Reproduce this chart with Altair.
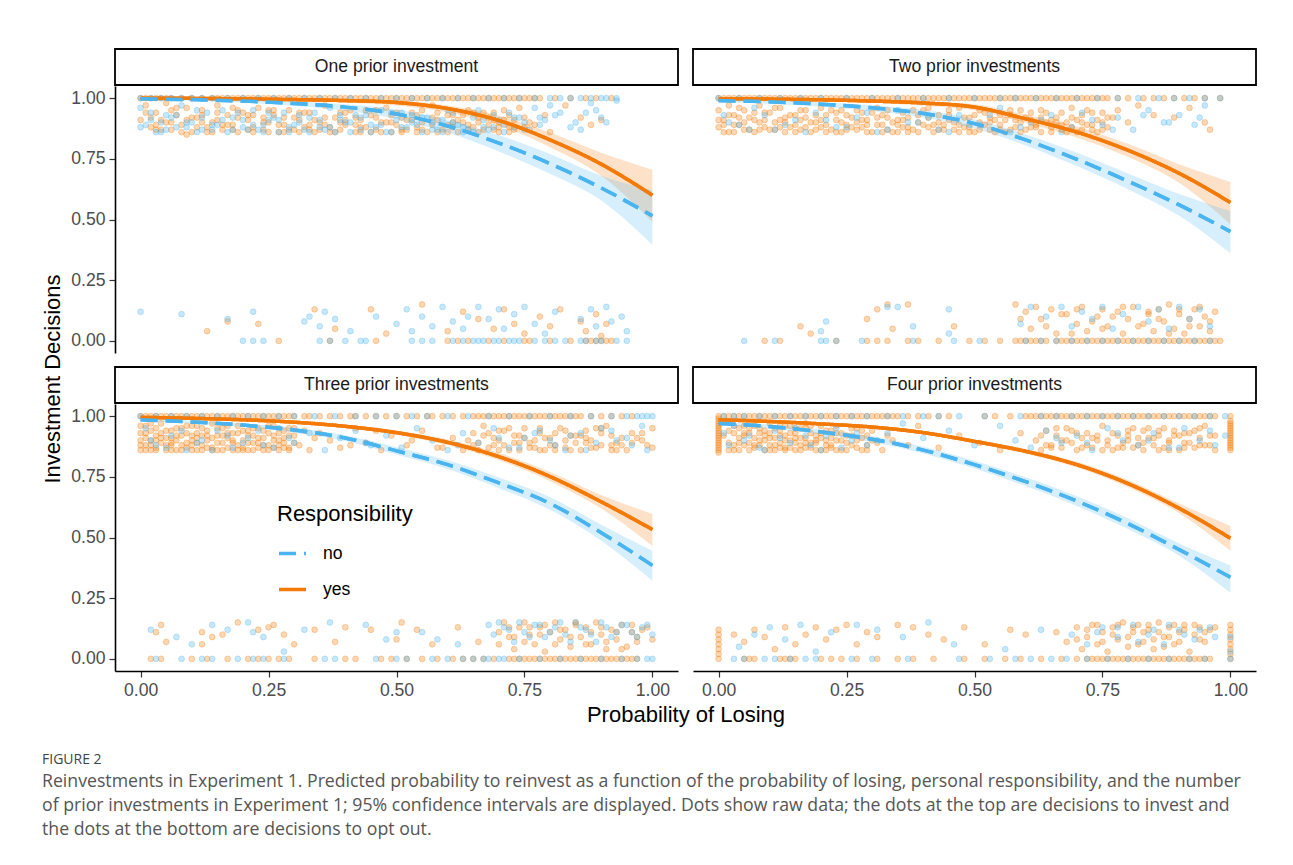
import altair as alt
import pandas as pd

FONT = "Liberation Sans"
BLUE = "#4AB4F0"
ORANGE = "#F47A08"
RESP = ["no", "yes"]
PANELS = ["One prior investment", "Two prior investments",
          "Three prior investments", "Four prior investments"]
X_TICKS = [0.0, 0.25, 0.5, 0.75, 1.0]
Y_TICKS = [0.0, 0.25, 0.5, 0.75, 1.0]
CURVE_X = [0.0, 0.1, 0.2, 0.3, 0.4, 0.5, 0.6, 0.7, 0.8, 0.9, 1.0]

# ---- fitted curves and 95% CI ----
P1_YES_FIT = [1.000, .999, .997, .994, .990, .982, .957, .908, .828, .728, .600]
P1_YES_LO = [.999, .997, .993, .988, .981, .970, .942, .888, .798, .680, .490]
P1_YES_HI = [1.000, 1.000, .999, .997, .995, .990, .970, .928, .858, .775, .705]
P1_NO_FIT = [.997, .994, .988, .978, .963, .935, .885, .815, .730, .630, .515]
P1_NO_LO = [.994, .989, .981, .968, .948, .914, .858, .780, .688, .578, .395]
P1_NO_HI = [.999, .997, .993, .986, .975, .953, .909, .847, .770, .680, .620]

P2_YES_FIT = [.998, .996, .993, .988, .980, .963, .915, .860, .785, .690, .570]
P2_YES_LO = [.996, .993, .988, .981, .970, .950, .898, .838, .757, .650, .480]
P2_YES_HI = [.999, .998, .996, .993, .987, .975, .932, .882, .812, .728, .655]
P2_NO_FIT = [.990, .985, .975, .960, .937, .895, .828, .748, .658, .560, .450]
P2_NO_LO = [.984, .977, .965, .947, .920, .875, .805, .720, .625, .515, .360]
P2_NO_HI = [.994, .990, .983, .971, .952, .913, .850, .775, .690, .605, .535]

P3_YES_FIT = [.995, .991, .985, .975, .958, .932, .892, .833, .751, .647, .533]
P3_YES_LO = [.993, .988, .981, .969, .951, .923, .880, .818, .732, .619, .465]
P3_YES_HI = [.997, .994, .989, .981, .965, .941, .904, .848, .770, .675, .597]
P3_NO_FIT = [.985, .976, .963, .943, .910, .857, .800, .725, .640, .520, .385]
P3_NO_LO = [.980, .970, .955, .932, .898, .842, .782, .703, .614, .487, .322]
P3_NO_HI = [.989, .981, .970, .953, .921, .872, .818, .747, .666, .553, .445]

P4_YES_FIT = [.985, .978, .968, .955, .932, .896, .855, .800, .722, .620, .497]
P4_YES_LO = [.981, .974, .963, .949, .925, .888, .845, .788, .707, .600, .445]
P4_YES_HI = [.988, .982, .973, .961, .939, .904, .865, .812, .737, .640, .547]
P4_NO_FIT = [.970, .957, .935, .905, .860, .800, .730, .650, .557, .450, .336]
P4_NO_LO = [.963, .948, .925, .893, .846, .784, .712, .630, .535, .425, .272]
P4_NO_HI = [.976, .965, .945, .917, .874, .816, .748, .670, .579, .475, .385]

# ---- raw decisions (x, y in hundredths) ----
# Panel 1
P1_YES_TOP_LINE = [0, 1, 2, 3, 4, 5, 6, 8, 10, 12, 14, 15, 16, 17, 18, 19, 20, 21, 22, 23, 24, 25, 26, 27, 28, 29, 30,
                   31, 32, 33, 34, 35, 36, 37, 38, 39, 40, 41, 42, 43, 44, 45, 46, 47, 48, 49, 50, 51, 52, 53, 54, 55,
                   56, 57, 58, 59, 60, 61, 62, 63, 64, 65, 66, 67, 68, 69, 70, 71, 72, 73, 74, 75, 76, 77, 78, 81, 84,
                   87, 89, 92]
P1_YES_TOP_JIT = [(1, 97), (2, 88), (3, 94), (4, 91), (5, 98), (6, 87), (7, 93), (8, 89), (9, 96), (10, 86), (11, 92),
                  (12, 95), (13, 88), (14, 90), (15, 97), (16, 87), (17, 93), (18, 89), (19, 86), (20, 94), (21, 91),
                  (22, 88), (23, 96), (24, 87), (25, 90), (26, 93), (27, 86), (28, 89), (29, 95), (30, 87), (31, 91),
                  (32, 88), (33, 94), (34, 86), (35, 90), (36, 97), (37, 88), (38, 92), (39, 87), (40, 89), (41, 95),
                  (42, 86), (43, 91), (44, 88), (45, 93), (46, 87), (47, 90), (48, 96), (49, 86), (50, 89), (51, 92),
                  (52, 87), (53, 94), (54, 88), (55, 90), (56, 86), (57, 97), (58, 91), (59, 87), (60, 89), (61, 93),
                  (62, 86), (63, 90), (64, 95), (65, 88), (66, 92), (67, 87), (68, 89), (69, 94), (70, 86), (71, 91),
                  (72, 88), (74, 96), (76, 90), (79, 93), (83, 97), (88, 89), (90, 91)]
P1_YES_TOP_JIT2 = [(2, 92), (3, 87), (5, 90), (6, 95), (8, 86), (9, 91), (11, 88), (12, 93), (14, 86), (15, 91),
                   (17, 89), (18, 96), (19, 92), (21, 87), (22, 93), (24, 90), (25, 86), (26, 95), (28, 92), (29, 87),
                   (31, 86), (32, 94), (33, 89), (35, 87), (36, 92), (38, 86), (39, 94), (40, 91), (42, 89), (43, 86),
                   (44, 95), (46, 92), (47, 86), (49, 90), (50, 94), (51, 87), (53, 91), (54, 86), (55, 95), (57, 89),
                   (58, 86), (60, 93), (61, 88), (62, 91), (64, 87), (65, 94), (66, 86), (68, 92), (69, 87), (70, 90),
                   (71, 95), (72, 86), (73, 91), (75, 88)]
P1_YES_TOP_JIT3 = [(0, 91), (1, 94), (3, 89), (4, 87), (6, 90), (7, 96), (9, 85), (10, 92), (12, 90), (13, 86),
                   (15, 94), (16, 89), (18, 87), (19, 95), (21, 93), (22, 86), (24, 92), (25, 95), (27, 89), (28, 86),
                   (30, 92), (31, 94), (33, 87), (34, 91), (36, 89), (37, 86), (39, 90), (40, 94), (42, 92), (43, 88),
                   (45, 86), (46, 95), (48, 90), (49, 93), (51, 86), (52, 91), (54, 93), (55, 87), (57, 92), (58, 94),
                   (60, 86), (61, 90), (63, 93), (64, 89), (66, 90), (67, 94), (69, 91), (70, 88), (72, 93), (73, 87),
                   (75, 92), (77, 89), (80, 86), (86, 92)]
P1_NO_TOP_LINE = [0, 2, 4, 6, 8, 10, 12, 14, 17, 20, 23, 26, 29, 32, 35, 38, 41, 44, 47, 50, 53, 56, 59, 62, 65, 68,
                  71, 74, 77, 80, 82, 84, 86, 88, 90, 91, 93]
P1_NO_TOP_JIT = [(0, 96), (2, 91), (3, 86), (5, 93), (7, 88), (8, 97), (10, 90), (12, 87), (13, 94), (15, 89), (17, 86),
                 (18, 92), (20, 88), (22, 95), (23, 87), (25, 91), (27, 86), (28, 94), (30, 89), (32, 87), (33, 92),
                 (35, 88), (37, 96), (38, 86), (40, 90), (42, 93), (43, 87), (45, 89), (47, 95), (48, 86), (50, 91),
                 (52, 88), (53, 93), (55, 86), (57, 90), (58, 87), (60, 95), (62, 89), (63, 86), (65, 92), (67, 88),
                 (68, 87), (70, 91), (72, 94), (73, 88), (75, 90), (77, 96), (78, 92), (80, 97), (82, 94), (85, 90),
                 (88, 98), (90, 92), (93, 99)]
P1_NO_TOP_JIT2 = [(1, 89), (4, 86), (6, 92), (9, 88), (11, 95), (14, 87), (16, 91), (19, 94), (21, 87), (24, 89),
                  (26, 92), (29, 86), (31, 90), (34, 94), (36, 87), (39, 91), (41, 86), (44, 93), (46, 88), (49, 86),
                  (51, 94), (54, 89), (56, 92), (59, 86), (61, 90), (64, 87), (66, 95), (69, 88), (71, 86), (74, 92),
                  (76, 87), (79, 91), (84, 88), (87, 94), (91, 90)]
P1_NO_TOP_JIT3 = [(0, 88), (2, 94), (4, 90), (5, 87), (7, 93), (9, 90), (11, 86), (12, 92), (14, 89), (16, 95),
                  (18, 87), (20, 91), (22, 89), (24, 86), (25, 94), (27, 91), (29, 88), (31, 93), (33, 86), (35, 91),
                  (37, 88), (39, 93), (41, 90), (43, 92), (45, 86), (47, 89), (49, 94), (51, 88), (53, 90), (55, 92),
                  (57, 87), (59, 91), (61, 94), (63, 88), (65, 86), (67, 91), (69, 93), (71, 89), (73, 92), (75, 87),
                  (78, 89), (81, 93), (86, 87), (89, 95)]
P1_YES_BOT_LINE = [27, 37, 46, 60, 62, 64, 68, 71, 75, 76, 80, 84, 87, 88, 89, 90, 91, 92]
P1_NO_BOT_LINE = [20, 22, 24, 35, 37, 40, 43, 44, 53, 55, 57, 61, 63, 65, 66, 67, 69, 70, 72, 73, 74, 77, 79, 81, 83,
                  86, 87, 89, 90, 93, 95]
P1_YES_BOT_JIT = [(13, 4), (17, 8), (23, 7), (34, 13), (38, 5), (45, 13), (48, 3), (55, 15), (60, 4), (63, 12),
                  (66, 9), (69, 5), (71, 13), (73, 7), (75, 3), (78, 10), (80, 6), (82, 13), (86, 8), (87, 4),
                  (89, 11), (90, 2), (91, 7)]
P1_NO_BOT_JIT = [(0, 12), (8, 11), (17, 9), (22, 12), (32, 8), (33, 10), (35, 6), (36, 12), (38, 9), (41, 4), (46, 10),
                 (50, 7), (52, 13), (53, 4), (55, 10), (57, 6), (59, 14), (61, 8), (63, 5), (64, 10), (66, 14), (68, 9),
                 (70, 13), (71, 5), (73, 11), (75, 14), (77, 7), (79, 3), (81, 12), (86, 9), (88, 13), (89, 6),
                 (91, 14), (92, 8), (94, 10), (95, 4)]

# Panel 2
P2_YES_TOP_LINE = [0, 1, 2, 3, 4, 5, 6, 7, 8, 9, 10, 11, 12, 13, 14, 15, 16, 17, 18, 19, 20, 21, 22, 23, 24, 25, 26,
                   27, 28, 29, 30, 31, 32, 33, 34, 35, 36, 37, 38, 39, 40, 41, 42, 43, 44, 45, 46, 47, 48, 49, 50, 51,
                   52, 53, 54, 55, 56, 57, 58, 59, 60, 61, 62, 63, 64, 65, 66, 67, 68, 69, 70, 71, 72, 73, 74, 75, 76,
                   78, 80, 83, 85, 87, 89, 91, 93, 95, 98]
P2_YES_TOP_JIT = [(0, 95), (0, 88), (1, 91), (2, 86), (2, 97), (3, 93), (4, 89), (5, 87), (5, 95), (6, 92), (7, 86),
                  (8, 90), (8, 97), (9, 88), (10, 94), (11, 87), (12, 91), (12, 96), (13, 86), (14, 93), (15, 89),
                  (16, 87), (16, 95), (17, 92), (18, 86), (19, 90), (20, 88), (20, 96), (21, 93), (22, 87), (23, 91),
                  (24, 86), (24, 95), (25, 89), (26, 92), (27, 87), (28, 94), (28, 88), (29, 91), (30, 86), (31, 96),
                  (32, 89), (32, 93), (33, 87), (34, 90), (35, 86), (36, 94), (36, 88), (37, 92), (38, 87), (39, 90),
                  (40, 95), (41, 88), (42, 86), (43, 93), (44, 89), (45, 91), (46, 87), (47, 96), (48, 88), (49, 92),
                  (50, 86), (51, 90), (52, 94), (53, 87), (54, 91), (55, 89), (56, 86), (57, 93), (58, 88), (59, 95),
                  (60, 87), (61, 91), (62, 89), (63, 86), (64, 94), (65, 88), (66, 92), (67, 87), (68, 90), (69, 96),
                  (70, 86), (71, 93), (72, 89), (73, 87), (74, 91), (75, 94), (76, 88), (78, 95), (80, 90), (82, 97),
                  (85, 93), (89, 92), (92, 96), (95, 90), (96, 87)]
P2_YES_TOP_JIT2 = [(1, 86), (2, 93), (3, 89), (4, 96), (6, 87), (7, 91), (9, 94), (10, 87), (11, 90), (13, 92),
                   (14, 88), (15, 86), (17, 95), (18, 90), (19, 87), (21, 89), (22, 95), (23, 86), (25, 93), (26, 88),
                   (27, 90), (29, 86), (30, 94), (31, 89), (33, 92), (34, 86), (35, 91), (37, 88), (38, 95), (39, 86),
                   (41, 92), (42, 89), (43, 87), (45, 95), (46, 90), (47, 86), (49, 88), (50, 93), (51, 87), (53, 90),
                   (54, 86), (55, 93), (57, 87), (58, 91), (59, 86), (61, 94), (62, 88), (63, 92), (65, 86), (66, 90),
                   (67, 94), (69, 88), (70, 91), (71, 87), (73, 94), (74, 86), (75, 90), (77, 92)]
P2_YES_TOP_JIT3 = [(0, 91), (1, 89), (3, 86), (4, 92), (5, 90), (7, 94), (8, 87), (9, 91), (11, 96), (12, 88),
                   (13, 90), (15, 93), (16, 91), (17, 88), (19, 93), (20, 91), (21, 86), (23, 94), (24, 90), (25, 87),
                   (27, 95), (28, 91), (29, 89), (31, 92), (32, 86), (33, 95), (35, 89), (36, 91), (37, 86), (39, 93),
                   (40, 89), (41, 96), (43, 90), (44, 87), (45, 93), (47, 89), (48, 92), (49, 86), (51, 95), (52, 89),
                   (53, 92), (55, 87), (56, 91), (57, 95), (59, 90), (60, 92), (61, 88), (63, 95), (64, 90), (65, 91),
                   (67, 89), (68, 86), (69, 92), (71, 90), (72, 95), (73, 89), (75, 87), (76, 92)]
P2_NO_TOP_LINE = [0, 4, 8, 12, 16, 20, 25, 30, 35, 40, 45, 50, 55, 58, 62, 66, 70, 74, 78, 82, 86, 89, 92, 95, 98]
P2_NO_TOP_JIT = [(1, 93), (4, 89), (7, 96), (11, 87), (15, 91), (19, 94), (23, 88), (27, 92), (31, 86), (35, 95),
                 (39, 90), (43, 87), (47, 93), (51, 89), (55, 96), (59, 88), (63, 91), (67, 86), (71, 94), (75, 89),
                 (78, 92), (81, 87), (84, 95), (87, 90), (90, 93), (93, 89), (95, 97)]
P2_NO_TOP_JIT2 = [(2, 90), (6, 87), (9, 93), (13, 89), (17, 86), (21, 91), (25, 88), (29, 94), (33, 87), (37, 90),
                  (41, 92), (45, 86), (49, 89), (53, 93), (57, 86), (61, 90), (65, 93), (69, 88), (73, 91), (77, 87),
                  (83, 93), (88, 90), (94, 92)]
P2_YES_BOT_LINE = [9, 12, 23, 29, 31, 33, 37, 39, 43, 49, 52, 55, 58, 59, 60, 61, 62, 63, 64, 66, 67, 68, 69, 70, 71,
                   72, 73, 74, 75, 76, 77, 78, 79, 80, 81, 82, 83, 84, 85, 86, 87, 88, 89, 90, 91, 92, 93, 94, 95, 96,
                   97, 98]
P2_NO_BOT_LINE = [5, 11, 20, 21, 23, 28, 38, 46, 51, 60, 63, 66, 69, 72, 75, 78, 81, 84, 87, 90, 93, 96]
P2_YES_BOT_JIT = [(16, 6), (18, 3), (29, 9), (31, 13), (33, 15), (34, 5), (37, 15), (46, 6), (58, 15), (60, 12),
                  (61, 5), (63, 9), (65, 13), (66, 3), (68, 11), (70, 7), (71, 14), (72, 4), (74, 10), (75, 13),
                  (76, 6), (78, 12), (79, 3), (80, 9), (81, 14), (83, 7), (84, 11), (85, 4), (86, 13), (87, 8),
                  (88, 15), (89, 5), (90, 11), (91, 3), (92, 9), (93, 13), (94, 6), (95, 10), (96, 4), (97, 12),
                  (59, 9), (62, 14), (64, 6), (67, 11), (69, 3), (70, 13), (73, 8), (75, 5), (77, 10), (79, 14),
                  (82, 6), (84, 12), (86, 9), (88, 3), (90, 13), (92, 6), (94, 14), (96, 8)]
P2_NO_BOT_JIT = [(20, 4), (21, 8), (33, 14), (35, 14), (38, 6), (45, 13), (45, 3), (59, 7), (61, 14), (64, 10),
                 (67, 14), (69, 6), (71, 12), (73, 9), (75, 14), (77, 5), (79, 11), (82, 14), (84, 8), (86, 13),
                 (88, 5), (90, 14), (92, 9), (94, 13), (96, 6)]

# Panel 3
P3_YES_TOP_LINE = [0, 1, 2, 3, 4, 5, 6, 7, 8, 9, 10, 11, 12, 13, 14, 15, 16, 17, 18, 19, 20, 21, 22, 23, 24, 25, 26,
                   27, 28, 29, 30, 32, 33, 35, 37, 39, 41, 42, 44, 46, 48, 50, 52, 54, 56, 57, 59, 61, 63, 65, 66, 67,
                   68, 69, 70, 71, 72, 73, 74, 75, 76, 77, 78, 79, 80, 81, 82, 83, 84, 85, 86, 88, 90, 92, 94, 96]
P3_YES_TOP_JIT = [(0, 93), (0, 88), (1, 96), (1, 86), (2, 90), (2, 94), (3, 87), (3, 92), (4, 89), (4, 97), (5, 86),
                  (5, 91), (6, 94), (6, 88), (7, 90), (7, 86), (8, 95), (8, 92), (9, 87), (9, 89), (10, 96), (10, 86),
                  (11, 91), (11, 93), (12, 88), (12, 86), (13, 94), (13, 90), (14, 87), (14, 97), (15, 92), (15, 86),
                  (16, 89), (16, 95), (17, 87), (17, 91), (18, 93), (18, 86), (19, 88), (19, 96), (20, 90), (20, 87),
                  (21, 94), (21, 86), (22, 92), (22, 89), (23, 87), (23, 95), (24, 91), (24, 86), (25, 93), (25, 88),
                  (26, 87), (26, 96), (27, 90), (27, 86), (28, 94), (28, 89), (29, 87), (29, 92), (30, 95), (31, 88),
                  (33, 86), (35, 93), (37, 90), (39, 87), (42, 95), (44, 89), (47, 86), (49, 92), (52, 88), (55, 94),
                  (58, 87), (61, 91), (63, 86), (65, 93), (66, 89), (67, 96), (68, 87), (69, 91), (70, 94), (71, 88),
                  (72, 86), (73, 92), (74, 89), (75, 95), (76, 87), (77, 90), (78, 93), (79, 86), (80, 91), (81, 88),
                  (82, 95), (83, 87), (84, 92), (85, 89), (86, 86), (87, 94), (88, 90), (89, 87), (90, 93), (91, 96),
                  (92, 88), (93, 86), (94, 91), (96, 89), (98, 93), (100, 87), (100, 95)]
P3_YES_TOP_JIT2 = [(0, 90), (1, 88), (1, 93), (2, 86), (2, 97), (3, 90), (4, 93), (5, 88), (6, 86), (6, 91), (7, 95),
                   (8, 88), (9, 93), (10, 90), (11, 86), (11, 96), (12, 92), (13, 87), (14, 91), (15, 95), (16, 86),
                   (17, 93), (18, 89), (19, 86), (20, 94), (21, 89), (22, 86), (23, 91), (24, 94), (25, 86), (26, 90),
                   (27, 93), (28, 87), (29, 95), (30, 89), (34, 91), (41, 88), (46, 94), (53, 90), (59, 87), (64, 90),
                   (66, 86), (67, 92), (69, 88), (70, 86), (71, 94), (73, 89), (74, 86), (75, 91), (77, 87), (78, 95),
                   (80, 88), (81, 93), (83, 90), (84, 86), (86, 92), (87, 89), (89, 95), (90, 88), (92, 92), (93, 89),
                   (95, 86), (97, 91), (99, 88)]
P3_YES_TOP_JIT3 = [(0, 86), (0, 96), (1, 91), (2, 88), (3, 95), (3, 86), (4, 91), (5, 94), (6, 89), (7, 92), (8, 86),
                   (9, 96), (10, 92), (10, 88), (11, 89), (12, 95), (13, 92), (14, 86), (15, 89), (16, 92), (17, 96),
                   (18, 90), (19, 93), (20, 86), (21, 92), (22, 95), (23, 89), (24, 88), (25, 96), (26, 92), (27, 88),
                   (28, 91), (29, 86), (30, 92), (32, 94), (65, 88), (68, 93), (70, 90), (72, 95), (74, 92), (76, 89),
                   (78, 86), (79, 91), (81, 86), (83, 94), (85, 92), (87, 91), (88, 87), (90, 95), (92, 86), (94, 88),
                   (96, 93), (98, 90)]
P3_NO_TOP_LINE = [0, 3, 6, 9, 12, 15, 18, 21, 24, 27, 30, 34, 38, 42, 46, 50, 53, 56, 60, 64, 68, 72, 76, 80, 84, 88,
                  92, 95, 97, 98, 99, 100]
P3_NO_TOP_JIT = [(1, 95), (3, 88), (6, 92), (9, 86), (12, 90), (15, 94), (18, 87), (21, 91), (24, 88), (27, 95),
                 (30, 89), (33, 93), (36, 86), (39, 91), (42, 94), (45, 88), (48, 92), (51, 87), (54, 95), (57, 90),
                 (60, 86), (63, 93), (66, 89), (69, 95), (72, 87), (75, 91), (78, 94), (81, 88), (84, 92), (87, 86),
                 (90, 95), (93, 90), (96, 88), (98, 96)]
P3_NO_TOP_JIT2 = [(2, 90), (5, 87), (8, 94), (11, 89), (14, 86), (17, 92), (20, 89), (23, 94), (26, 87), (29, 91),
                  (44, 89), (62, 88), (70, 91), (74, 87), (77, 93), (80, 90), (83, 86), (86, 93), (89, 89), (92, 94),
                  (95, 91), (99, 86)]
P3_YES_BOT_LINE = [2, 4, 10, 13, 17, 21, 23, 25, 27, 29, 34, 40, 42, 47, 49, 52, 55, 58, 61, 63, 65, 67, 69, 72, 73,
                   74, 75, 76, 77, 78, 79, 80, 81, 82, 83, 84, 85, 86, 87, 88, 89, 90, 91, 92, 93, 94, 95, 96, 97]
P3_NO_BOT_LINE = [3, 8, 12, 14, 19, 22, 24, 28, 36, 38, 46, 50, 52, 57, 60, 63, 65, 67, 68, 70, 71, 74, 78, 82, 86,
                  90, 94, 97, 99, 100]
P3_YES_BOT_JIT = [(3, 11), (4, 14), (5, 7), (12, 11), (12, 6), (14, 9), (16, 10), (19, 15), (23, 12), (25, 13),
                  (26, 14), (28, 10), (30, 6), (34, 12), (38, 7), (40, 13), (45, 12), (50, 8), (51, 15), (54, 12),
                  (57, 6), (62, 13), (66, 7), (70, 11), (71, 15), (72, 9), (73, 4), (74, 13), (75, 15), (76, 10),
                  (77, 6), (78, 13), (79, 3), (80, 11), (81, 15), (82, 8), (83, 12), (84, 5), (85, 14), (86, 9),
                  (87, 13), (88, 6), (89, 15), (90, 10), (91, 4), (92, 12), (93, 8), (94, 14), (95, 5), (96, 11),
                  (97, 7), (99, 13), (100, 8), (70, 6), (72, 13), (73, 9), (75, 7), (76, 13), (78, 10), (79, 14),
                  (81, 6), (82, 12), (84, 9), (85, 15), (87, 6), (88, 11), (90, 13), (91, 7), (93, 11), (94, 4),
                  (96, 14), (97, 9), (98, 12)]
P3_NO_BOT_JIT = [(2, 12), (7, 9), (10, 6), (14, 14), (17, 12), (21, 15), (22, 11), (24, 9), (28, 3), (32, 12),
                 (37, 15), (44, 14), (48, 8), (50, 11), (55, 11), (58, 8), (62, 6), (68, 14), (70, 15), (72, 12),
                 (74, 15), (76, 9), (78, 14), (80, 11), (82, 15), (84, 7), (86, 13), (88, 10), (90, 15), (92, 9),
                 (94, 14), (96, 11), (98, 13), (100, 10), (69, 10), (71, 13), (73, 7), (75, 11), (77, 14), (79, 9),
                 (81, 13), (83, 10), (85, 15), (87, 12), (89, 7), (91, 13), (93, 11), (95, 14), (97, 9), (99, 14)]

# Panel 4
P4_YES_TOP_LINE = [0, 1, 2, 3, 4, 5, 6, 7, 8, 9, 10, 11, 12, 13, 14, 15, 16, 17, 18, 19, 20, 21, 22, 23, 24, 25, 26,
                   27, 28, 29, 30, 31, 32, 33, 34, 35, 37, 39, 41, 43, 45, 52, 54, 57, 60, 61, 62, 63, 64, 65, 66, 67,
                   68, 69, 70, 71, 72, 73, 74, 75, 76, 77, 78, 79, 80, 81, 82, 83, 84, 85, 86, 87, 88, 89, 90, 91, 92,
                   93, 94, 95, 96, 97, 100]
P4_YES_TOP_JIT = [(0, 86), (0, 87), (0, 88), (0, 89), (0, 90), (0, 91), (0, 92), (0, 93), (0, 94), (0, 95), (0, 96),
                  (0, 97), (0, 98), (2, 94), (3, 88), (4, 91), (4, 86), (5, 96), (6, 89), (6, 93), (7, 87), (8, 90),
                  (8, 95), (9, 86), (9, 92), (10, 88), (10, 97), (11, 91), (11, 86), (12, 94), (12, 89), (13, 87),
                  (13, 92), (14, 90), (14, 96), (15, 86), (15, 93), (16, 88), (16, 91), (17, 95), (17, 87), (18, 89),
                  (18, 93), (19, 86), (20, 91), (20, 96), (21, 88), (22, 94), (22, 87), (23, 90), (24, 86), (24, 93),
                  (25, 89), (26, 95), (27, 87), (28, 91), (29, 88), (30, 94), (32, 86), (34, 90), (37, 88), (39, 96),
                  (43, 87), (47, 92), (51, 89), (55, 86), (59, 93), (62, 90), (63, 86), (64, 94), (65, 88), (66, 92),
                  (67, 87), (68, 95), (69, 89), (70, 86), (71, 91), (72, 93), (73, 87), (74, 90), (75, 96), (76, 88),
                  (77, 86), (78, 92), (79, 89), (80, 94), (81, 87), (82, 91), (83, 86), (84, 95), (85, 88), (86, 92),
                  (87, 87), (88, 90), (89, 94), (90, 86), (91, 89), (92, 93), (93, 87), (94, 91), (95, 96), (96, 88),
                  (97, 86), (100, 86), (100, 88), (100, 90), (100, 92), (100, 94), (100, 96), (100, 98)]
P4_YES_TOP_JIT2 = [(2, 89), (3, 93), (3, 86), (4, 95), (5, 88), (5, 92), (6, 86), (7, 91), (7, 96), (8, 88), (9, 94),
                   (10, 86), (10, 91), (11, 95), (12, 87), (12, 92), (13, 90), (13, 96), (14, 87), (15, 89), (15, 95),
                   (16, 86), (17, 91), (17, 97), (18, 87), (19, 92), (19, 89), (20, 86), (21, 94), (21, 90), (22, 88),
                   (23, 93), (23, 86), (25, 92), (26, 88), (27, 95), (28, 86), (29, 92), (31, 89), (63, 92), (65, 87),
                   (67, 90), (69, 94), (71, 87), (73, 91), (75, 86), (77, 93), (79, 87), (80, 90), (82, 88), (83, 94),
                   (85, 91), (86, 86), (87, 95), (88, 89), (90, 92), (91, 87), (93, 94), (94, 88), (96, 92)]
P4_YES_TOP_JIT3 = [(0, 85), (0, 99), (1, 92), (2, 86), (3, 96), (4, 89), (5, 93), (6, 95), (7, 88), (8, 93), (9, 90),
                   (10, 93), (11, 88), (12, 96), (13, 86), (14, 93), (15, 91), (16, 95), (17, 89), (18, 96), (19, 90),
                   (20, 93), (21, 86), (22, 91), (23, 96), (24, 90), (25, 86), (26, 92), (27, 90), (28, 94), (29, 86),
                   (30, 90), (33, 92), (64, 88), (66, 95), (68, 90), (70, 93), (72, 88), (74, 92), (76, 90), (78, 87),
                   (80, 92), (81, 95), (83, 89), (84, 91), (86, 94), (88, 86), (89, 92), (91, 93), (92, 89), (94, 95),
                   (95, 88), (97, 92), (100, 87), (100, 89), (100, 91), (100, 93), (100, 95), (100, 97)]
P4_NO_TOP_LINE = [1, 3, 5, 8, 11, 14, 17, 20, 23, 26, 29, 33, 36, 40, 43, 47, 52, 59, 63, 66, 69, 72, 75, 78, 81, 84,
                  87, 90, 93, 96, 99]
P4_NO_TOP_JIT = [(1, 93), (3, 96), (5, 90), (8, 87), (11, 94), (14, 89), (17, 92), (20, 86), (23, 95), (26, 90),
                 (29, 88), (33, 93), (36, 97), (40, 91), (45, 94), (50, 88), (55, 96), (58, 90), (61, 87), (64, 94),
                 (67, 89), (70, 92), (73, 86), (76, 95), (79, 90), (82, 88), (85, 93), (88, 87), (91, 95), (94, 90),
                 (97, 88), (99, 92), (2, 88), (6, 92), (9, 86), (12, 91), (15, 95), (18, 88), (21, 92), (24, 87),
                 (27, 93), (31, 90), (66, 91), (72, 89), (78, 93), (84, 90), (90, 87), (96, 94)]
P4_YES_BOT_LINE = [0, 5, 6, 7, 12, 13, 14, 15, 20, 22, 24, 27, 31, 35, 38, 42, 48, 52, 56, 59, 63, 67, 70, 72, 73, 74,
                   75, 76, 77, 78, 79, 80, 81, 82, 83, 84, 85, 86, 87, 88, 89, 90, 91, 92, 93, 94, 95, 96, 100]
P4_NO_BOT_LINE = [3, 5, 9, 11, 14, 17, 19, 26, 30, 37, 47, 53, 58, 61, 65, 68, 72, 76, 80, 84, 88, 92, 95, 100]
P4_YES_BOT_JIT = [(0, 2), (0, 4), (0, 6), (0, 8), (0, 10), (0, 12), (3, 10), (5, 7), (7, 12), (9, 9), (11, 4),
                  (13, 13), (15, 6), (17, 10), (19, 13), (21, 8), (23, 12), (25, 14), (27, 6), (29, 11), (31, 9),
                  (35, 14), (38, 13), (41, 10), (44, 8), (48, 13), (52, 6), (57, 12), (60, 10), (66, 11), (68, 7),
                  (70, 13), (71, 4), (72, 9), (73, 14), (74, 6), (75, 11), (76, 3), (77, 13), (78, 8), (79, 15),
                  (80, 5), (81, 11), (82, 14), (83, 7), (84, 12), (85, 4), (86, 15), (87, 9), (88, 13), (89, 6),
                  (90, 11), (91, 14), (92, 3), (93, 10), (94, 13), (95, 7), (96, 12), (100, 2), (100, 4), (100, 6),
                  (100, 8), (100, 10), (100, 12), (100, 14), (70, 8), (72, 12), (74, 14), (75, 7), (77, 10), (78, 14),
                  (80, 9), (81, 13), (82, 6), (83, 11), (84, 14), (85, 8), (86, 11), (87, 5), (88, 9), (89, 14),
                  (90, 7), (91, 12), (93, 14), (94, 8), (95, 11), (97, 13)]
P4_NO_BOT_JIT = [(4, 5), (7, 10), (10, 13), (13, 8), (16, 14), (19, 3), (22, 11), (27, 14), (31, 12), (36, 9),
                 (41, 15), (46, 6), (56, 4), (63, 12), (69, 10), (72, 6), (75, 13), (78, 9), (81, 14), (84, 10),
                 (87, 6), (90, 12), (93, 8), (96, 13), (100, 3), (100, 9), (74, 11), (78, 13), (82, 7), (85, 12),
                 (88, 14), (91, 10), (94, 12), (97, 9)]

CAPTION_TITLE = "FIGURE 2"
CAPTION_LINES = [
    "Reinvestments in Experiment 1. Predicted probability to reinvest as a function of the probability of losing, "
    "personal responsibility, and the number",
    "of prior investments in Experiment 1; 95% confidence intervals are displayed. Dots show raw data; the dots at "
    "the top are decisions to invest and",
    "the dots at the bottom are decisions to opt out.",
]

# ---- assemble tables ----
point_rows = []
curve_rows = []


def add_points(panel, resp, top_line, top_jit, bot_line, bot_jit):
    for v in top_line:
        point_rows.append({"panel": panel, "resp": resp, "x": v / 100, "y": 1.0})
    for v, w in top_jit:
        point_rows.append({"panel": panel, "resp": resp, "x": v / 100, "y": w / 100})
    for v in bot_line:
        point_rows.append({"panel": panel, "resp": resp, "x": v / 100, "y": 0.0})
    for v, w in bot_jit:
        point_rows.append({"panel": panel, "resp": resp, "x": v / 100, "y": w / 100})


def add_curve(panel, resp, fit, lo, hi):
    for x, f, a, b in zip(CURVE_X, fit, lo, hi):
        curve_rows.append({"panel": panel, "resp": resp, "x": x, "fit": f, "lo": a, "hi": b})


add_points(PANELS[0], "yes", P1_YES_TOP_LINE, P1_YES_TOP_JIT + P1_YES_TOP_JIT2 + P1_YES_TOP_JIT3,
           P1_YES_BOT_LINE, P1_YES_BOT_JIT)
add_points(PANELS[0], "no", P1_NO_TOP_LINE, P1_NO_TOP_JIT + P1_NO_TOP_JIT2 + P1_NO_TOP_JIT3,
           P1_NO_BOT_LINE, P1_NO_BOT_JIT)
add_points(PANELS[1], "yes", P2_YES_TOP_LINE, P2_YES_TOP_JIT + P2_YES_TOP_JIT2 + P2_YES_TOP_JIT3,
           P2_YES_BOT_LINE, P2_YES_BOT_JIT)
add_points(PANELS[1], "no", P2_NO_TOP_LINE, P2_NO_TOP_JIT + P2_NO_TOP_JIT2, P2_NO_BOT_LINE, P2_NO_BOT_JIT)
add_points(PANELS[2], "yes", P3_YES_TOP_LINE, P3_YES_TOP_JIT + P3_YES_TOP_JIT2 + P3_YES_TOP_JIT3,
           P3_YES_BOT_LINE, P3_YES_BOT_JIT)
add_points(PANELS[2], "no", P3_NO_TOP_LINE, P3_NO_TOP_JIT + P3_NO_TOP_JIT2, P3_NO_BOT_LINE, P3_NO_BOT_JIT)
add_points(PANELS[3], "yes", P4_YES_TOP_LINE, P4_YES_TOP_JIT + P4_YES_TOP_JIT2 + P4_YES_TOP_JIT3,
           P4_YES_BOT_LINE, P4_YES_BOT_JIT)
add_points(PANELS[3], "no", P4_NO_TOP_LINE, P4_NO_TOP_JIT, P4_NO_BOT_LINE, P4_NO_BOT_JIT)

add_curve(PANELS[0], "yes", P1_YES_FIT, P1_YES_LO, P1_YES_HI)
add_curve(PANELS[0], "no", P1_NO_FIT, P1_NO_LO, P1_NO_HI)
add_curve(PANELS[1], "yes", P2_YES_FIT, P2_YES_LO, P2_YES_HI)
add_curve(PANELS[1], "no", P2_NO_FIT, P2_NO_LO, P2_NO_HI)
add_curve(PANELS[2], "yes", P3_YES_FIT, P3_YES_LO, P3_YES_HI)
add_curve(PANELS[2], "no", P3_NO_FIT, P3_NO_LO, P3_NO_HI)
add_curve(PANELS[3], "yes", P4_YES_FIT, P4_YES_LO, P4_YES_HI)
add_curve(PANELS[3], "no", P4_NO_FIT, P4_NO_LO, P4_NO_HI)

points = pd.DataFrame(point_rows)
curves = pd.DataFrame(curve_rows)

PW, PH, SH = 563, 267, 36
COLOR_SCALE = alt.Scale(domain=RESP, range=[BLUE, ORANGE])
DASH_SCALE = alt.Scale(domain=RESP, range=[[17, 8], [1, 0]])
XS = alt.Scale(domain=[-0.05, 1.05], nice=False, zero=False)
YS = alt.Scale(domain=[-0.05, 1.05], nice=False, zero=False)

LEGEND = alt.Legend(title="Responsibility", orient="none", legendX=243, legendY=455,
                    titleFontSize=22, titleFont=FONT, titleFontWeight="normal", titleColor="black",
                    labelFontSize=17.6, labelFont=FONT, labelColor="black",
                    symbolType="stroke", symbolSize=729, symbolStrokeWidth=3.5,
                    titlePadding=12, rowPadding=11, labelOffset=15, padding=0)


def panel_chart(i, show_x, show_y):
    pts = points[points.panel == PANELS[i]]
    cur = curves[curves.panel == PANELS[i]]
    xaxis = alt.Axis(values=X_TICKS, format=".2f", title=None) if show_x else None
    yaxis = alt.Axis(values=Y_TICKS, format=".2f", title=None) if show_y else None
    x = alt.X("x:Q", scale=XS, axis=xaxis)

    def fit_line():
        return alt.Chart(cur).mark_line(strokeWidth=3.5, interpolate="monotone", clip=True).encode(
            x=x,
            y=alt.Y("fit:Q", scale=YS, axis=yaxis),
            color=alt.Color("resp:N", scale=COLOR_SCALE, legend=LEGEND),
            strokeDash=alt.StrokeDash("resp:N", scale=DASH_SCALE, legend=LEGEND),
        )

    dots = alt.Chart(pts).mark_circle(size=34, fillOpacity=0.3, strokeOpacity=0.3, strokeWidth=1, clip=True).encode(
        x=x,
        y=alt.Y("y:Q", scale=YS, axis=yaxis),
        color=alt.Color("resp:N", scale=COLOR_SCALE, legend=None),
        stroke=alt.Stroke("resp:N", scale=COLOR_SCALE, legend=None),
    )
    band = alt.Chart(cur).mark_area(opacity=0.22, interpolate="monotone", clip=True).encode(
        x=x,
        y=alt.Y("lo:Q", scale=YS, axis=yaxis),
        y2="hi:Q",
        color=alt.Color("resp:N", scale=COLOR_SCALE, legend=None),
    )
    # the first fit line carries the legend definition; the last one is drawn on top
    return alt.layer(fit_line(), dots, band, fit_line()).properties(width=PW, height=PH)


def strip_chart(i):
    return alt.Chart(pd.DataFrame({"label": [PANELS[i]]})).mark_text(
        font=FONT, fontSize=17.6, color="#1A1A1A"
    ).encode(
        text="label:N", x=alt.value(PW / 2), y=alt.value(SH / 2)
    ).properties(width=PW, height=SH, view=alt.ViewBackground(stroke="black", strokeWidth=1.8, fill="white"))


def cell(i, show_x, show_y):
    return alt.vconcat(strip_chart(i), panel_chart(i, show_x, show_y), spacing=0)


row1 = alt.hconcat(cell(0, False, True), cell(1, False, False), spacing=13)
row2 = alt.hconcat(cell(2, True, True), cell(3, True, False), spacing=13)
grid = alt.vconcat(row1, row2, spacing=13)

xtitle = alt.Chart(pd.DataFrame({"t": ["Probability of Losing"]})).mark_text(
    font=FONT, fontSize=22, color="black"
).encode(text="t:N", x=alt.value(571), y=alt.value(16)).properties(width=1140, height=30)

ytitle = alt.Chart(pd.DataFrame({"t": ["Investment Decisions"]})).mark_text(
    font=FONT, fontSize=22, color="black", angle=270
).encode(text="t:N", x=alt.value(19), y=alt.value(330)).properties(width=36, height=621)

main = alt.vconcat(grid, xtitle, spacing=0)

chart = alt.hconcat(ytitle, main, spacing=0).properties(
    padding={"left": 26, "top": 40, "right": 5, "bottom": 5},
    title=alt.TitleParams(
        text=CAPTION_TITLE, subtitle=CAPTION_LINES, orient="bottom", anchor="start",
        font="Open Sans", fontSize=14, fontWeight="normal", color="#444444",
        subtitleFont="Open Sans", subtitleFontSize=17.7, subtitleColor="#555555",
        subtitleLineHeight=24, subtitlePadding=6, offset=24, dx=8,
    ),
).configure_view(stroke=None).configure_axis(
    labelFont=FONT, labelFontSize=17.6, labelColor="#4D4D4D", tickColor="#333333",
    tickSize=6, tickWidth=1.2, domainColor="black", domainWidth=1.6, grid=False, labelPadding=4,
).configure_concat(spacing=0)

chart.save("out.html", embed_options={"renderer": "svg", "actions": False})
